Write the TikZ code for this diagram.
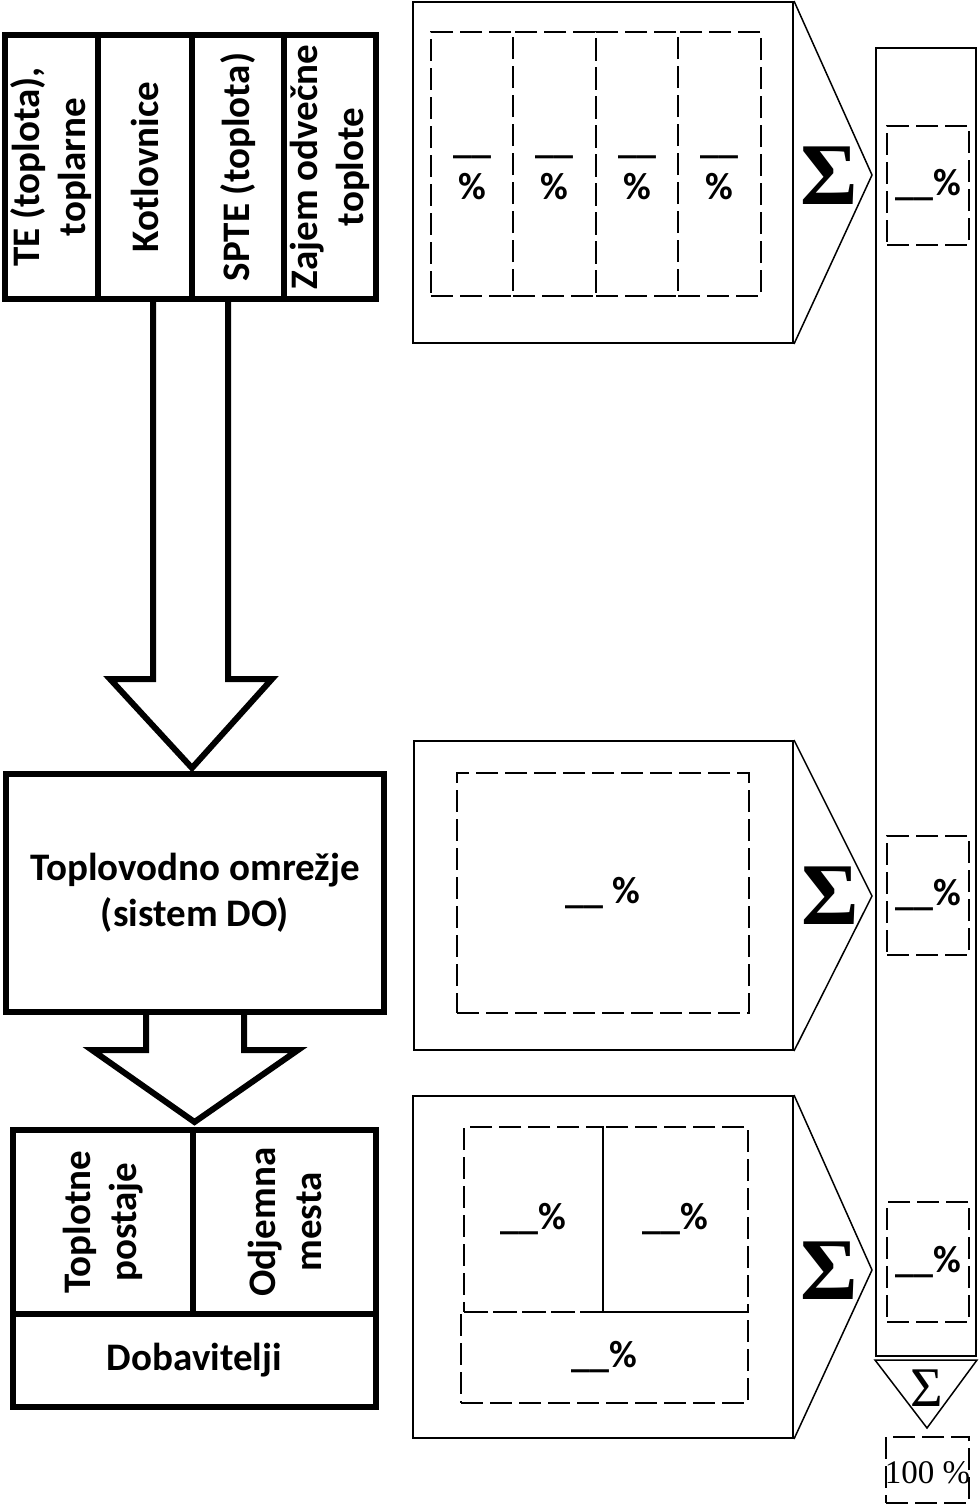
\documentclass[tikz,border=0pt]{standalone}
\usepackage{fontspec}
\setmainfont{Carlito}
\newfontfamily\seriffont{Liberation Serif}
\usetikzlibrary{calc}

\begin{document}
\begin{tikzpicture}[x=1pt,y=-1pt,
  heavy/.style={draw, line width=6pt, line join=miter},
  cellbox/.style={heavy, inner sep=0pt, align=center,
    font=\fontsize{39}{46}\selectfont\bfseries},
  panel/.style={draw, line width=2pt, inner sep=0pt},
  dashbox/.style={draw, line width=2.5pt, dash pattern=on 22pt off 7pt,
    inner sep=0pt, align=center, font=\fontsize{38}{46}\selectfont\bfseries},
  share/.style={inner sep=0pt, align=center, font=\fontsize{38}{46}\selectfont\bfseries},
  thinline/.style={line width=1.5pt, line join=miter},
  sumsign/.style={inner sep=0pt, font=\fontsize{88}{88}\selectfont\seriffont\bfseries},
]
\useasboundingbox (0,0) rectangle (980,1505);

% ---- sources (rotated labels) ----
\node[heavy, minimum width=371pt, minimum height=264pt] (src) at (190.5,167) {};
\node[cellbox, rotate=90, minimum width=264pt, minimum height=93pt] (c1) at (51.5,167) {TE (toplota),\\toplarne};
\node[cellbox, rotate=90, minimum width=264pt, minimum height=94pt] (c2) at (145,167) {Kotlovnice};
\node[cellbox, rotate=90, minimum width=264pt, minimum height=92pt] (c3) at (238,167) {SPTE (toplota)};
\node[cellbox, rotate=90, minimum width=264pt, minimum height=92pt] (c4) at (330,167) {Zajem odvečne\\toplote};

% ---- network ----
\node[cellbox, minimum width=378pt, minimum height=238pt] (net) at (195,893) {Toplovodno omrežje\\(sistem DO)};

% ---- consumers ----
\node[heavy, minimum width=363pt, minimum height=277pt] (sinks) at (194.5,1268.5) {};
\node[cellbox, rotate=90, minimum width=184pt, minimum height=180pt] (tp) at (103,1222) {Toplotne\\postaje};
\node[cellbox, rotate=90, minimum width=184pt, minimum height=183pt] (om) at (284.5,1222) {Odjemna\\mesta};
\node[cellbox, minimum width=363pt, minimum height=93pt] (dob) at (194.5,1360.5) {Dobavitelji};

% ---- block arrows ----
\draw[heavy, fill=white]
  ($(src.south)+(-37.5,0)$) -- ($(src.south)+(-37.5,377)$) -- ($(src.south)+(-80.5,377)$)
  -- ($(net.north)+(-3,-3)$) -- ($(src.south)+(81.5,377)$) -- ($(src.south)+(37.5,377)$)
  -- ($(src.south)+(37.5,0)$);
\draw[heavy, fill=white]
  ($(net.south)+(-49,0)$) -- ($(net.south)+(-49,35)$) -- ($(net.south)+(-103,35)$)
  -- ($(sinks.north)+(0,-5)$) -- ($(net.south)+(103,35)$) -- ($(net.south)+(49,35)$)
  -- ($(net.south)+(49,0)$);

% ---- total column ----
\node[panel, minimum width=100pt, minimum height=1308pt] (total) at (926,702) {};

% ---- share panels ----
\node[panel, minimum width=380pt, minimum height=341pt] (p1) at (603,172.5) {};
\node[panel, minimum width=379pt, minimum height=309pt] (p2) at (603.5,895.5) {};
\node[panel, minimum width=380pt, minimum height=342pt] (p3) at (603,1267) {};

\draw[thinline] (p1.north east) -- ($(total.west |- p1.east)+(-3,2.5)$) -- (p1.south east);
\draw[thinline] (p2.north east) -- ($(total.west |- p2.east)+(-3,0.5)$) -- (p2.south east);
\draw[thinline] (p3.north east) -- ($(total.west |- p3.east)+(-3,3)$) -- (p3.south east);

\node[sumsign] (s1) at (829,176) {Σ};
\node[sumsign] (s2) at (830,896) {Σ};
\node[sumsign] (s3) at (829,1271) {Σ};

% ---- dashed share fields ----
\node[dashbox, minimum width=82pt, minimum height=264pt] (d1a) at (472,164) {};
\node[dashbox, minimum width=83pt, minimum height=264pt] (d1b) at (554.5,164) {};
\node[dashbox, minimum width=82pt, minimum height=264pt] (d1c) at (637,164) {};
\node[dashbox, minimum width=83pt, minimum height=264pt] (d1d) at (719.5,164) {};
\node[share] (t1a) at ($(d1a)+(0,13)$) {\_\_\\\%};
\node[share] (t1b) at ($(d1b)+(0,13)$) {\_\_\\\%};
\node[share] (t1c) at ($(d1c)+(0,13)$) {\_\_\\\%};
\node[share] (t1d) at ($(d1d)+(0,13)$) {\_\_\\\%};

\node[dashbox, minimum width=292pt, minimum height=240pt] (d2) at (603,893) {\_\_ \%};

\node[dashbox, minimum width=139pt, minimum height=185pt] (d3a) at (533.5,1219.5) {\_\_\%};
\node[dashbox, dash phase=14pt, minimum width=145pt, minimum height=185pt] (d3b) at (675.5,1219.5) {\_\_\%};
\node[dashbox, minimum width=287pt, minimum height=91pt] (d3c) at (604.5,1357.5) {\_\_\%};

\node[dashbox, minimum width=82pt, minimum height=119pt] (ta) at (928,185.5) {\_\_\%};
\node[dashbox, minimum width=82pt, minimum height=119pt] (tb) at (928,895.5) {\_\_\%};
\node[dashbox, minimum width=82pt, minimum height=120pt] (tc) at (928,1262) {\_\_\%};

% ---- grand total ----
\draw[thinline] ($(total.south west)+(0,3)$) -- ($(total.south)+(1,71)$) -- ($(total.south east)+(0,3)$) -- cycle;
\node[inner sep=0pt, font=\fontsize{56}{56}\selectfont\seriffont] (s4) at (927,1388) {Σ};
\node[dashbox, minimum width=83pt, minimum height=66pt] (hundred) at (927.5,1470) {};
\node[inner sep=0pt, font=\fontsize{33}{33}\selectfont\seriffont] (hundredt) at ($(hundred)+(0,3)$) {100 \%};
\end{tikzpicture}
\end{document}
